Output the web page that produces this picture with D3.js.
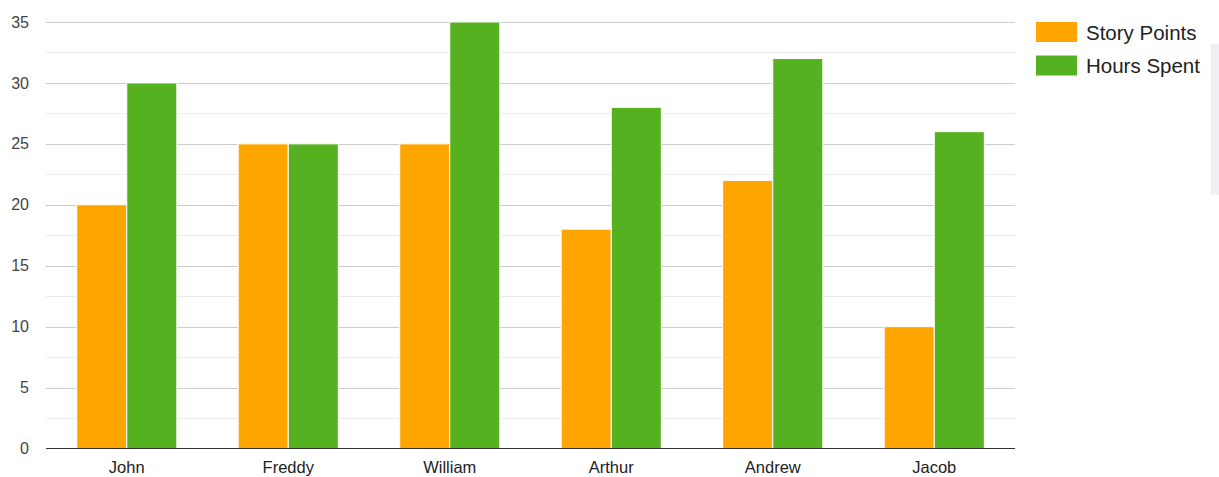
<!DOCTYPE html>
<html><head><meta charset="utf-8">
<script src="https://cdn.jsdelivr.net/npm/d3@7"></script>
<style>body{margin:0;background:#fff;} svg{display:block;font-family:Arial, "Liberation Sans", sans-serif;}</style>
</head><body>
<svg id="chart" width="1219" height="477"></svg>
<script>
const categories = ["John","Freddy","William","Arthur","Andrew","Jacob"];
const storyPoints = [20,25,25,18,22,10];
const hoursSpent = [30,25,35,28,32,26];
const seriesNames = ["Story Points","Hours Spent"];
const seriesColors = ["#FFA500","#56B120"];
const yTicks = [0,5,10,15,20,25,30,35];
const yMinor = [2.5,7.5,12.5,17.5,22.5,27.5,32.5];

const svg = d3.select("#chart");
const m = {left:46, right:1015, top:22, bottom:448.5};
const x = d3.scaleBand().domain(categories).range([m.left, m.right]).paddingInner(0.38).paddingOuter(0.19);
const xs = d3.scaleBand().domain(seriesNames).range([0, x.bandwidth()]);
const y = d3.scaleLinear().domain([0,35]).range([m.bottom, m.top]);

// faint background artifact at right edge
svg.append("path").attr("d","M1211,44 L1219,44 L1219,195 L1211,195 Z").attr("fill","#eef0f4");

const g = svg.append("g");
g.selectAll(".minor").data(yMinor).join("line")
  .attr("x1",m.left).attr("x2",m.right)
  .attr("y1",d=>Math.round(y(d))+0.5).attr("y2",d=>Math.round(y(d))+0.5)
  .attr("stroke","#ebebeb").attr("stroke-width",1);
g.selectAll(".major").data(yTicks.filter(d=>d>0)).join("line")
  .attr("x1",m.left).attr("x2",m.right)
  .attr("y1",d=>Math.round(y(d))+0.5).attr("y2",d=>Math.round(y(d))+0.5)
  .attr("stroke","#cccccc").attr("stroke-width",1);

const data = categories.map((c,i)=>({c, vals:[storyPoints[i], hoursSpent[i]]}));
const grp = g.selectAll(".grp").data(data).join("g").attr("transform",d=>`translate(${x(d.c)},0)`);
grp.selectAll("rect").data(d=>d.vals.map((v,j)=>({v, s:seriesNames[j], j}))).join("rect")
  .attr("x",d=>xs(d.s)).attr("width",xs.bandwidth())
  .attr("y",d=>y(d.v)).attr("height",d=>y(0)-y(d.v))
  .attr("fill",d=>seriesColors[d.j]).attr("stroke","#ffffff").attr("stroke-width",1);

// baseline
g.append("line").attr("x1",m.left).attr("x2",m.right).attr("y1",448.5).attr("y2",448.5).attr("stroke","#333").attr("stroke-width",1);

// y axis labels
const yAxis = d3.axisLeft(y).tickValues(yTicks).tickSize(0).tickPadding(0);
const ya = svg.append("g").attr("transform","translate(29,0)").call(yAxis);
ya.select(".domain").remove();
ya.selectAll("text").attr("fill","#444").attr("font-size","16px").attr("font-family","Arial, 'Liberation Sans', sans-serif");

// x axis labels
const xAxis = d3.axisBottom(x).tickSize(0).tickPadding(0);
const xa = svg.append("g").attr("transform","translate(0,461)").call(xAxis);
xa.select(".domain").remove();
xa.selectAll("text").attr("fill","#222").attr("font-size","16.5px").attr("font-family","Arial, 'Liberation Sans', sans-serif");

// legend
const lg = svg.append("g").attr("transform","translate(1036,22)");
const li = lg.selectAll("g").data(seriesNames).join("g").attr("transform",(d,i)=>`translate(0,${i*33.5})`);
li.append("rect").attr("width",41).attr("height",20).attr("fill",(d,i)=>seriesColors[i]);
li.append("text").attr("x",50).attr("y",17.5).text(d=>d).attr("font-size","20.5px").attr("fill","#222");
</script>
</body></html>
